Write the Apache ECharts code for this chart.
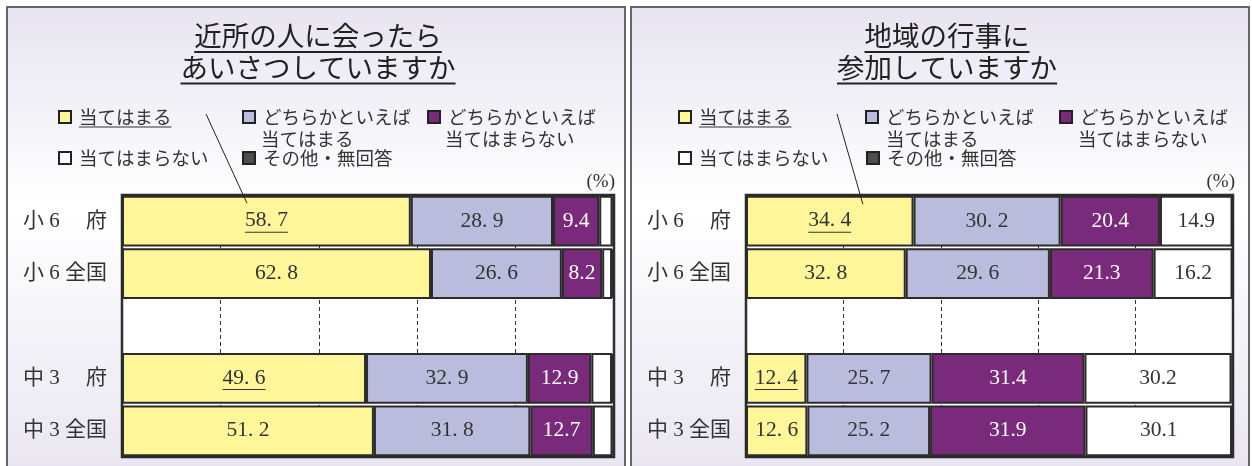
<!DOCTYPE html>
<html>
<head>
<meta charset="utf-8">
<script src="https://cdn.jsdelivr.net/npm/echarts@6/dist/echarts.min.js"></script>
<style>
  html, body { margin: 0; padding: 0; background: #fff; }
  #chart { width: 1252px; height: 466px; }
</style>
</head>
<body>
<div id="chart"></div>
<script>
// Rows of both panels (the empty row is the separator between 小6 and 中3)
const categories = ['小 6 　府', '小 6 全国', '', '中 3 　府', '中 3 全国'];
const answerNames = ['当てはまる', 'どちらかといえば当てはまる', 'どちらかといえば当てはまらない', '当てはまらない', 'その他・無回答'];

// 近所の人に会ったらあいさつしていますか (%)
const greetYes       = [58.7, 62.8, null, 49.6, 51.2];
const greetRatherYes = [28.9, 26.6, null, 32.9, 31.8];
const greetRatherNo  = [9.4, 8.2, null, 12.9, 12.7];
const greetNo        = [2.7, 2.0, null, 4.2, 4.0];
const greetOther     = [0.3, 0.4, null, 0.3, 0.3];

// 地域の行事に参加していますか (%)
const eventYes       = [34.4, 32.8, null, 12.4, 12.6];
const eventRatherYes = [30.2, 29.6, null, 25.7, 25.2];
const eventRatherNo  = [20.4, 21.3, null, 31.4, 31.9];
const eventNo        = [14.9, 16.2, null, 30.2, 30.1];
const eventOther     = [0.1, 0.1, null, 0.3, 0.2];

// Guide lines across the separator row
const axisMin = 0, axisMax = 100, axisStep = 20;

const panelTitles = [
  ['近所の人に会ったら', 'あいさつしていますか'],
  ['地域の行事に', '参加していますか']
];

const COLORS = ['#fff69a', '#babcde', '#7a2a7b', '#ffffff', '#4d4d4d'];
const LABEL_COLORS = ['#333', '#333', '#fff', '#333', '#fff'];
const SERIF = "'Liberation Serif', 'Noto Sans CJK JP', serif";
const SANS = "'Noto Sans CJK JP', sans-serif";
const EDGE = '#2b2b2b';

// underline token: spans the whole text block, anchored at its left edge
const UNDERLINE = { width: '100%', height: 1, lineHeight: 1, fontSize: 1, align: 'left', backgroundColor: '#333' };

const panels = [
  { values: [greetYes, greetRatherYes, greetRatherNo, greetNo, greetOther],
    x: 7, grid: { left: 122, width: 492 }, titleX: 318,
    legend: [[58, 106.5], [242, 107], [427, 107], [58, 148], [242, 148]],
    secondLine: [[261, 139], [445, 139]],
    pointer: { from: [206, 114], value: 25.4, lift: 18 }, unitX: 615 },
  { values: [eventYes, eventRatherYes, eventRatherNo, eventNo, eventOther],
    x: 631, grid: { left: 746, width: 487 }, titleX: 947,
    legend: [[678, 106.5], [865, 107], [1059, 107], [678, 148], [866, 148]],
    secondLine: [[886, 139], [1078, 139]],
    pointer: { from: [837, 114], value: 24, lift: 17 }, unitX: 1235 }
];

function valueText(v, si) {
  let s = v.toFixed(1);
  if (si < 2) s = s.replace('.', '. ');
  return s;
}

function labelFormatter(si) {
  return function (p) {
    const v = p.value;
    if (v == null || v < 5) return '';
    const s = valueText(v, si);
    if (si === 0 && p.name.indexOf('府') >= 0) return '{v|' + s + '}\n{u| }';
    return '{v|' + s + '}';
  };
}

const grids = [], xAxes = [], yAxes = [], series = [], legends = [], graphics = [];

panels.forEach((p, gi) => {
  grids.push({
    left: p.grid.left, width: p.grid.width, top: 195, height: 262,
    show: true, backgroundColor: '#ffffff', borderColor: EDGE, borderWidth: 2.5,
    containLabel: false, outerBoundsMode: 'none'
  });
  xAxes.push({
    type: 'value', gridIndex: gi, min: axisMin, max: axisMax, interval: axisStep,
    axisLabel: { show: false }, axisLine: { show: false }, axisTick: { show: false },
    splitLine: { show: true, lineStyle: { color: '#333', width: 1, type: [4, 3] } }
  });
  yAxes.push({
    type: 'category', gridIndex: gi, data: categories, inverse: true,
    axisLine: { show: false }, axisTick: { show: false }, splitLine: { show: false },
    axisLabel: { margin: 15, fontSize: 21, color: '#333', fontFamily: SERIF }
  });
  p.values.forEach((vals, si) => {
    series.push({
      type: 'bar', name: answerNames[si], xAxisIndex: gi, yAxisIndex: gi,
      stack: 'panel' + gi, data: vals, barCategoryGap: '3%', clip: false,
      itemStyle: { color: COLORS[si], borderColor: EDGE, borderWidth: 2 },
      emphasis: { disabled: true },
      label: {
        show: true, position: 'inside', formatter: labelFormatter(si),
        rich: {
          v: { fontFamily: SERIF, fontSize: 21.5, color: LABEL_COLORS[si], lineHeight: 22 },
          u: UNDERLINE
        }
      }
    });
  });

  // legend, one component per entry so the two-row layout can be kept
  answerNames.forEach((name, si) => {
    const pos = p.legend[si];
    legends.push({
      data: [name], left: pos[0], top: pos[1], padding: 0, selectedMode: false,
      icon: 'rect', itemWidth: 12, itemHeight: 12,
      itemStyle: { borderColor: '#222', borderWidth: 2 },
      formatter: function (n) {
        if (si === 0) return '{t|' + n + '}\n{u| }';
        if (si === 1 || si === 2) return '{t|どちらかといえば}';
        return '{t|' + n + '}';
      },
      textStyle: {
        fontSize: 18.5, fontFamily: SANS, color: '#333', lineHeight: 20, padding: [0, 0, 0, 3],
        rich: {
          t: { fontSize: 18.5, fontFamily: SANS, color: '#333', lineHeight: 20 },
          u: UNDERLINE
        }
      }
    });
  });

  // panel background and frame
  graphics.push({
    type: 'rect', z: -10, silent: true,
    shape: { x: p.x, y: 7, width: 618, height: 480 },
    style: {
      fill: new echarts.graphic.LinearGradient(0, 0, 0, 1, [
        { offset: 0, color: '#e7e4f0' },
        { offset: 0.42, color: '#ffffff' },
        { offset: 1, color: '#e7e4f0' }
      ]),
      stroke: '#666', lineWidth: 2
    }
  });

  // underlined two-line heading
  panelTitles[gi].forEach((line, li) => {
    graphics.push({
      type: 'text', x: p.titleX, y: li === 0 ? 21 : 52.5, silent: true,
      style: {
        text: '{t|' + line + '}\n{u| }', align: 'center', verticalAlign: 'top',
        rich: {
          t: { fontSize: 27.5, fontFamily: SANS, fill: '#222', lineHeight: 30 },
          u: { width: '100%', height: 2, lineHeight: 2, fontSize: 1, align: 'left', backgroundColor: '#222' }
        }
      }
    });
  });

  // second lines of the two wrapped legend entries
  ['当てはまる', '当てはまらない'].forEach((t, k) => {
    graphics.push({
      type: 'text', x: p.secondLine[k][0], y: p.secondLine[k][1], silent: true,
      style: { text: t, fontSize: 18.5, fontFamily: SANS, fill: '#333', verticalAlign: 'middle' }
    });
  });

  // unit
  graphics.push({
    type: 'text', x: p.unitX, y: 182, silent: true,
    style: { text: '(%)', fontSize: 19, fontFamily: SERIF, fill: '#333', align: 'right', verticalAlign: 'middle' }
  });
});

const chart = echarts.init(document.getElementById('chart'), null, { renderer: 'canvas' });
chart.setOption({
  animation: false,
  backgroundColor: '#ffffff',
  grid: grids, xAxis: xAxes, yAxis: yAxes, legend: legends, series: series,
  graphic: graphics
});

// pointer from the legend entry down to the 府 bar of 当てはまる
const pointers = panels.map((p, gi) => {
  const end = chart.convertToPixel({ gridIndex: gi }, [p.pointer.value, 0]);
  return {
    type: 'line', silent: true, z: 10,
    shape: { x1: p.pointer.from[0], y1: p.pointer.from[1], x2: end[0], y2: end[1] - p.pointer.lift },
    style: { stroke: '#222', lineWidth: 1 }
  };
});
chart.setOption({ graphic: graphics.concat(pointers) });
</script>
</body>
</html>
